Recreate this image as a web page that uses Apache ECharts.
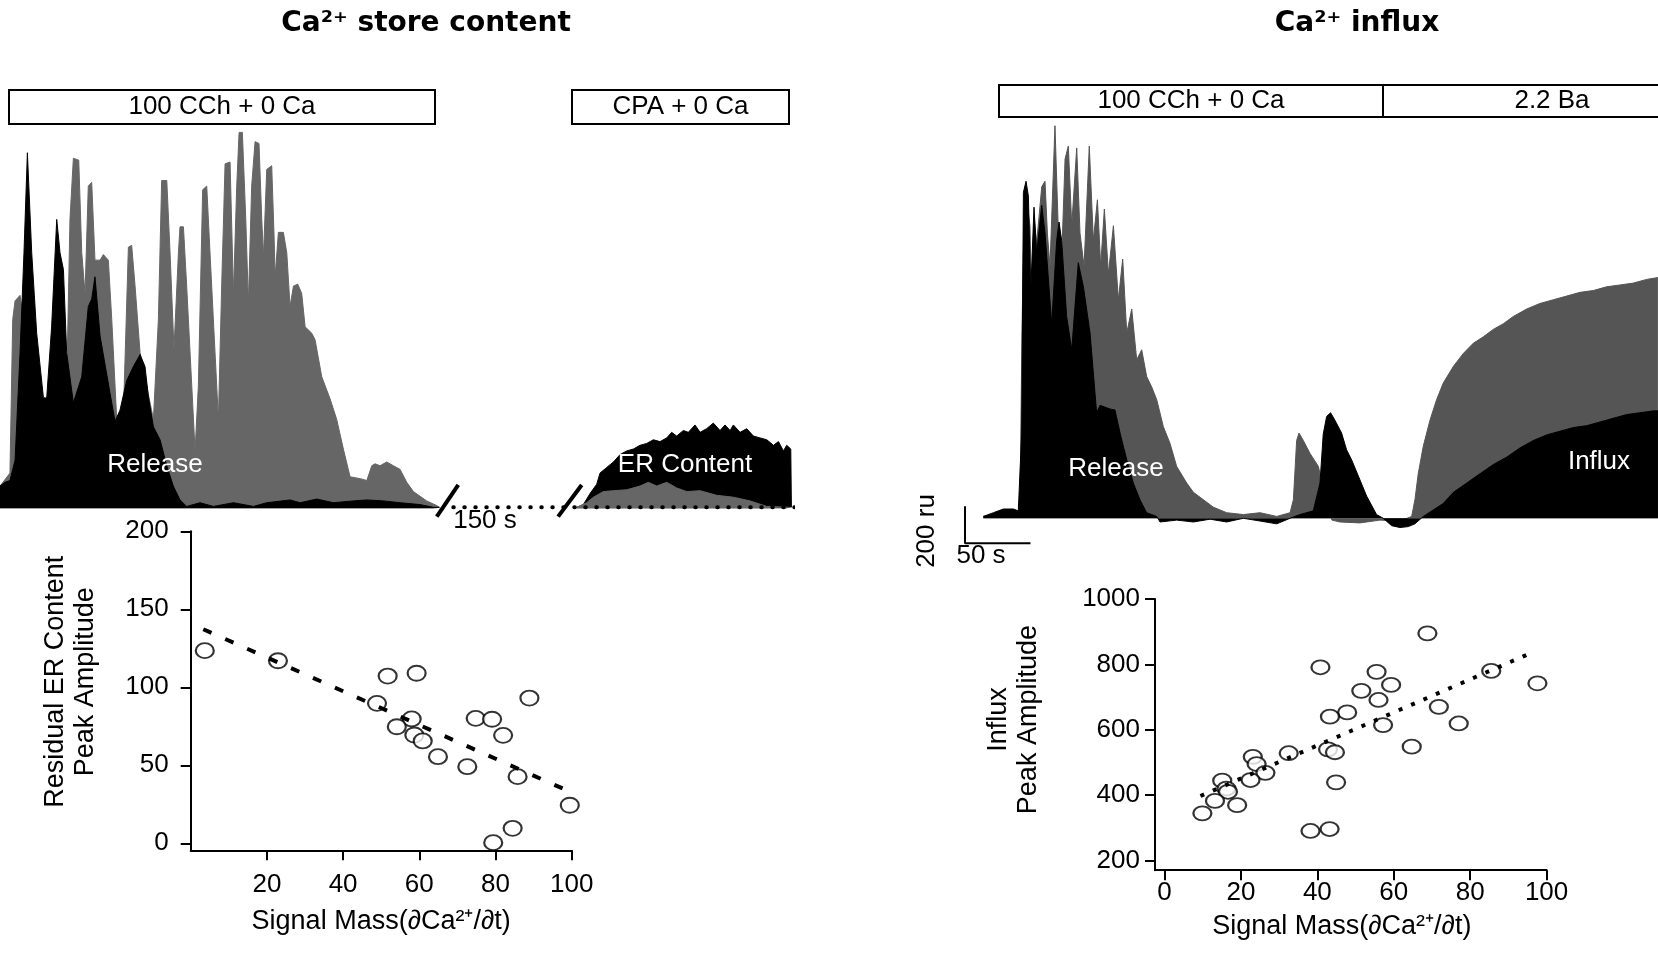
<!DOCTYPE html>
<html>
<head>
<meta charset="utf-8">
<script src="https://cdn.jsdelivr.net/npm/echarts@6.0.0/dist/echarts.min.js"></script>
<style>
html, body { margin: 0; padding: 0; background: #fff; }
#main { width: 1658px; height: 968px; }
</style>
</head>
<body>
<div id="main"></div>
<script>
var FONT = '"Liberation Sans", Arial, sans-serif';

// ---- Ca2+ store content traces: [time (s), fluorescence (ru)] ----
var storeGrayRelease = [[0,120],[7.6,190],[9.7,1020],[11.5,1120],[15.3,1150],[17.3,1050],[20.4,570],[33.1,590],[40.7,620],[50.9,660],[53.4,1560],[56.0,1890],[60.1,1880],[62.4,1380],[64.9,1160],[67.4,1740],[70.0,1760],[72.5,1340],[76.4,1340],[78.9,1370],[82.7,1340],[85.3,1020],[89.1,480],[94.2,510],[98.0,1410],[100.5,1420],[103.1,1200],[106.9,840],[117.1,480],[120.9,1020],[123.4,1770],[127.3,1770],[129.8,1380],[132.8,860],[136.2,1380],[137.4,1520],[140.0,1520],[142.5,1200],[148.9,310],[151.4,660],[154.7,1720],[157.8,1740],[160.3,1380],[166.7,480],[169.2,1200],[171.8,1860],[175.6,1870],[178.2,1160],[180.7,1740],[182.5,2030],[185.0,2030],[187.6,1560],[189.6,1110],[192.1,1740],[194.7,1980],[197.7,1970],[199.8,1560],[201.1,1360],[203.6,1830],[207.4,1850],[209.2,1470],[210.0,1250],[212.5,1490],[216.3,1490],[218.9,1380],[221.4,1090],[224.0,1200],[227.3,1210],[230.3,1160],[232.9,980],[238.0,945],[240.5,910],[245.6,710],[252.0,590],[257.0,480],[262.1,320],[267.2,170],[274.9,160],[280.0,150],[283.8,230],[286.3,240],[290.1,230],[295.2,250],[300.3,230],[305.4,210],[310.5,140],[315.6,90],[325.7,40],[333.3,15],[335.5,5]];
var storeBlackRelease = [[0,120],[3.8,140],[7.6,150],[11.5,260],[15.3,840],[18.3,1380],[20.9,1920],[24.2,1380],[28.0,945],[33.1,600],[35.6,590],[39.4,980],[43.3,1560],[45.8,1380],[48.4,1290],[50.9,840],[56.0,570],[62.4,710],[67.4,1090],[70.0,1130],[72.5,1250],[76.4,930],[84.0,620],[87.8,470],[91.6,530],[96.7,690],[101.8,765],[106.9,830],[110.7,765],[113.3,600],[117.1,440],[122.2,370],[127.3,230],[132.3,120],[137.4,45],[142.5,10],[152.7,30],[162.9,10],[178.2,30],[193.4,10],[203.6,30],[221.4,45],[229.1,30],[241.8,50],[254.5,30],[269.8,40],[280.0,45],[292.7,40],[305.4,30],[320.7,20],[330.8,5],[335.5,5]];
var storeBlackER = [[440.2,5],[445.3,20],[450.4,80],[455.5,130],[458.0,190],[463.1,220],[468.2,250],[473.3,290],[478.4,310],[483.5,320],[488.5,340],[493.6,350],[498.7,370],[503.8,360],[508.9,380],[512.7,410],[516.5,390],[521.6,420],[525.4,410],[530.5,450],[534.4,410],[539.4,430],[544.5,460],[549.6,420],[553.4,450],[557.3,420],[559.8,450],[564.9,410],[570.0,430],[575.1,390],[580.2,380],[585.3,370],[590.4,340],[594.2,360],[598.0,310],[600.5,340],[603.6,320],[604.1,5]];
var storeGrayER = [[440.2,5],[447.8,30],[452.9,60],[460.5,90],[468.2,95],[478.4,100],[488.5,120],[494.9,140],[501.3,120],[508.9,140],[516.5,110],[524.2,90],[534.4,95],[547.1,70],[559.8,60],[572.5,40],[585.3,10],[603.1,5]];
var storeGapBaseline = [[346,5],[607,5]];
var storeBreakA = [[333.4,-45],[349.8,126]];
var storeBreakB = [[426,-45],[444,126]];

// ---- Ca2+ influx traces: [time (s), fluorescence (ru)] ----
var influxGray = [[17.8,10],[25.5,20],[33.1,40],[43.3,30],[45.8,45],[47.3,1000],[48.9,1670],[50.9,1720],[53.4,1580],[54.7,1180],[56.5,1630],[58.5,1485],[62.4,1790],[64.9,1820],[66.7,1540],[68.7,1360],[72.5,2120],[75.1,1540],[77.6,1400],[80.2,1940],[82.7,2010],[85.3,1580],[89.1,2000],[91.6,1540],[94.7,1360],[98.7,2010],[101.8,1500],[104.9,1720],[107.4,1360],[110.2,1670],[113.3,1320],[117.1,1580],[120.9,1180],[124.2,1400],[127.3,1000],[131.1,1130],[134.9,855],[138.7,910],[142.5,765],[146.3,710],[150.2,640],[155.2,495],[160.3,405],[165.4,280],[173.1,190],[178.2,140],[185.8,100],[193.4,60],[203.6,30],[216.3,20],[229.1,30],[241.8,10],[252.0,30],[254.5,100],[257.0,420],[258.8,460],[262.1,420],[267.2,350],[273.6,280],[276,200],[279,80],[284,-10],[290,-20],[305.3,-25],[320.6,-10],[335.9,-15],[344.8,10],[347.3,100],[349.8,240],[353.7,390],[358.8,530],[363.8,640],[368.9,730],[376.6,820],[384.2,890],[391.8,945],[399.5,980],[407.1,1020],[414.7,1050],[422.4,1090],[432.6,1130],[442.7,1160],[452.9,1180],[463.1,1200],[473.3,1220],[483.5,1230],[493.6,1250],[503.8,1260],[514.0,1270],[524.2,1290],[532.8,1300]];
var influxBlack = [[17.8,10],[25.5,30],[33.1,50],[40.7,50],[44.5,40],[47.1,460],[48.4,1760],[50.4,1820],[52.2,1740],[54.0,1220],[56.5,1680],[58.5,1430],[62.4,1690],[64.9,1540],[70.0,1050],[73.8,1500],[75.6,1600],[77.6,1500],[81.4,1090],[85.3,910],[90.3,1380],[94.2,1250],[99.3,1000],[104.3,570],[106.9,610],[114.5,590],[118.3,585],[122.2,460],[127.3,315],[132.3,190],[137.4,100],[142.5,30],[150.2,10],[152.7,-20],[165.4,-10],[178.2,-20],[190.9,-5],[203.6,-20],[216.3,0],[229.1,-15],[241.8,-30],[252.0,0],[259.5,20],[269.7,40],[274.8,190],[277.3,455],[279.9,550],[282.9,570],[286.2,530],[291.3,460],[295.1,370],[299.0,315],[304.0,230],[310.4,120],[318.0,20],[323.1,0],[329.5,-40],[335.9,-50],[342.2,-45],[347.3,-30],[353.7,10],[361.3,45],[368.9,80],[376.6,140],[386.8,190],[396.9,240],[407.1,290],[417.3,330],[427.5,380],[437.7,420],[447.8,450],[458.0,470],[468.2,490],[478.4,500],[488.6,520],[498.7,540],[508.9,560],[519.1,570],[529.3,580],[532.8,580]];
var scaleBar = [[3.8,65],[3.8,-135],[53.8,-135]];   // 200 ru / 50 s

// ---- scatter panels ----
var erMass = [3.7,22.9,51.7,59.3,48.9,58.0,54.1,58.7,60.9,64.9,72.6,74.8,79.1,82.0,88.9,85.8,99.5,84.5,79.4];
var erAmp  = [123.5,117,107.2,109,89.7,79.7,74.7,69.4,65.6,55.5,49.1,80.1,79.5,69.2,93.1,42.7,24.4,9.6,0.4];
var erFit  = [[3.3,137.2],[99.6,33]];

var influxMass = [68.8,40.8,55.5,59.3,51.5,56.0,85.5,97.6,71.8,77.0,47.8,43.3,57.2,64.7,32.5,42.8,44.6,44.9,38.2,43.2,23.1,24.1,26.4,22.5,15.1,16.2,16.6,13.2,19.0,9.9];
var influxAmp  = [895,791,777,737,719,691,780,742,670,619,653,640,614,548,528,540,531,439,290,296,517,495,468,446,444,420,410,382,369,344];
var influxFit  = [[9.4,397],[95.8,834]];

var erTicksX = [20,40,60,80,100];
var erTicksY = [0,50,100,150,200];
var influxTicksX = [0,20,40,60,80,100];
var influxTicksY = [200,400,600,800,1000];

function pairs(xs, ys) {
    var out = [];
    for (var i = 0; i < xs.length; i++) out.push([xs[i], ys[i]]);
    return out;
}

function trace(data, color, idx, z) {
    return {
        type: 'line', xAxisIndex: idx, yAxisIndex: idx, data: data,
        symbol: 'none', showSymbol: false, silent: true, z: z,
        lineStyle: { color: color, width: 1 },
        areaStyle: { color: color, opacity: 1 }
    };
}

function stroke(data, idx, width, type, z) {
    return {
        type: 'line', xAxisIndex: idx, yAxisIndex: idx, data: data,
        symbol: 'none', showSymbol: false, silent: true, z: z,
        lineStyle: { color: '#000', width: width, type: type, cap: 'butt' }
    };
}

function axisBase(ticks, margin) {
    return {
        type: 'value',
        axisLine: { show: true, onZero: false, lineStyle: { color: '#000', width: 2 } },
        axisTick: { show: true, length: 10, customValues: ticks, lineStyle: { color: '#000', width: 2 } },
        axisLabel: {
            customValues: ticks, color: '#000', fontSize: 26, fontFamily: FONT, margin: margin,
            formatter: function (v) { return String(v); }
        },
        splitLine: { show: false },
        nameLocation: 'middle',
        nameTextStyle: { color: '#000', fontSize: 27, fontFamily: FONT, lineHeight: 30 }
    };
}

var exL = axisBase(erTicksX, 22);
exL.gridIndex = 2; exL.min = 0; exL.max = 100;
exL.name = 'Signal Mass(∂Ca²⁺/∂t)'; exL.nameGap = 56;

var eyL = axisBase(erTicksY, 22);
eyL.gridIndex = 2; eyL.min = -4.5; eyL.max = 200;
eyL.name = 'Residual ER Content\nPeak Amplitude'; eyL.nameGap = 90; eyL.nameRotate = 90;
eyL.nameTextStyle.padding = [0, 0, 0, 18];

var ixR = axisBase(influxTicksX, 10);
ixR.gridIndex = 3; ixR.min = -2.5; ixR.max = 100;
ixR.name = 'Signal Mass(∂Ca²⁺/∂t)'; ixR.nameGap = 41;
ixR.nameTextStyle.padding = [0, 18, 0, 0];

var iyR = axisBase(influxTicksY, 15);
iyR.gridIndex = 3; iyR.min = 170; iyR.max = 1000;
iyR.name = 'Influx\nPeak Amplitude'; iyR.nameGap = 111; iyR.nameRotate = 90;
iyR.nameTextStyle.padding = [0, 0, 0, 30];

function box(x, y, w, h) {
    return { type: 'rect', shape: { x: x, y: y, width: w, height: h }, style: { fill: '#fff', stroke: '#000', lineWidth: 2 }, z: 10 };
}
function label(text, x, y, color, size, rot) {
    return {
        type: 'text', x: x, y: y, rotation: rot || 0, z: 20,
        style: { text: text, fill: color, font: size + 'px ' + FONT, align: 'center', verticalAlign: 'middle', textAlign: 'center', textVerticalAlign: 'middle' }
    };
}

var chart = echarts.init(document.getElementById('main'));

var option = {
    animation: false,
    backgroundColor: '#fff',
    title: [
        { text: 'Ca²⁺ store content', left: 426, top: 10, textAlign: 'center', padding: 0,
          textStyle: { fontFamily: '"DejaVu Sans", sans-serif', fontWeight: 'bold', fontSize: 28, color: '#000' } },
        { text: 'Ca²⁺ influx', left: 1357, top: 10, textAlign: 'center', padding: 0,
          textStyle: { fontFamily: '"DejaVu Sans", sans-serif', fontWeight: 'bold', fontSize: 28, color: '#000' } }
    ],
    grid: [
        { left: 0, top: 100.9, width: 792.6, height: 425.9, outerBoundsMode: 'none' },
        { left: 960, top: 110.9, width: 698.2, height: 444.4, outerBoundsMode: 'none' },
        { left: 190.7, top: 531.3, width: 381, height: 319, outerBoundsMode: 'none' },
        { left: 1155, top: 599, width: 391.6, height: 271.2, outerBoundsMode: 'none' }
    ],
    xAxis: [
        { gridIndex: 0, type: 'value', min: 0, max: 605, show: false },
        { gridIndex: 1, type: 'value', min: 0, max: 533, show: false },
        exL, ixR
    ],
    yAxis: [
        { gridIndex: 0, type: 'value', min: -100, max: 2200, show: false },
        { gridIndex: 1, type: 'value', min: -200, max: 2200, show: false },
        eyL, iyR
    ],
    series: [
        trace(storeGrayRelease, '#666666', 0, 2),
        trace(storeBlackRelease, '#000000', 0, 3),
        trace(storeBlackER, '#000000', 0, 2),
        trace(storeGrayER, '#666666', 0, 3),
        (function () { var s = stroke(storeGapBaseline, 0, 4, [0.5, 10.5], 4); s.lineStyle.cap = 'round'; return s; })(),
        stroke(storeBreakA, 0, 4, 'solid', 5),
        stroke(storeBreakB, 0, 4, 'solid', 5),

        trace(influxGray, '#555555', 1, 2),
        trace(influxBlack, '#000000', 1, 3),
        stroke(scaleBar, 1, 2, 'solid', 5),

        {
            type: 'scatter', xAxisIndex: 2, yAxisIndex: 2, data: pairs(erMass, erAmp),
            symbol: 'circle', symbolSize: [18, 15], z: 3,
            itemStyle: { color: '#fff', borderColor: '#000', borderWidth: 2 }
        },
        stroke(erFit, 2, 4, [9, 15], 4),
        {
            type: 'scatter', xAxisIndex: 3, yAxisIndex: 3, data: pairs(influxMass, influxAmp),
            symbol: 'circle', symbolSize: [18, 14], z: 3,
            itemStyle: { color: '#fff', borderColor: '#000', borderWidth: 2 }
        },
        stroke(influxFit, 3, 4, [4, 9.5], 4)
    ],
    graphic: [
        box(9, 90, 426, 34), label('100 CCh + 0 Ca', 222, 107, '#000', 26),
        box(572, 90, 217, 34), label('CPA + 0 Ca', 680.5, 107, '#000', 26),
        box(999, 85, 384, 32), label('100 CCh + 0 Ca', 1191, 101, '#000', 26),
        box(1383, 85, 290, 32), label('2.2 Ba', 1552, 101, '#000', 26),
        label('Release', 155, 465, '#fff', 26),
        label('ER Content', 685, 465, '#fff', 26),
        label('150 s', 485, 521, '#000', 26),
        label('Release', 1116, 469, '#fff', 26),
        label('Influx', 1599, 462, '#fff', 26),
        label('200 ru', 927, 531, '#000', 26, Math.PI / 2),
        label('50 s', 981, 556, '#000', 26)
    ]
};

chart.setOption(option);
</script>
</body>
</html>
